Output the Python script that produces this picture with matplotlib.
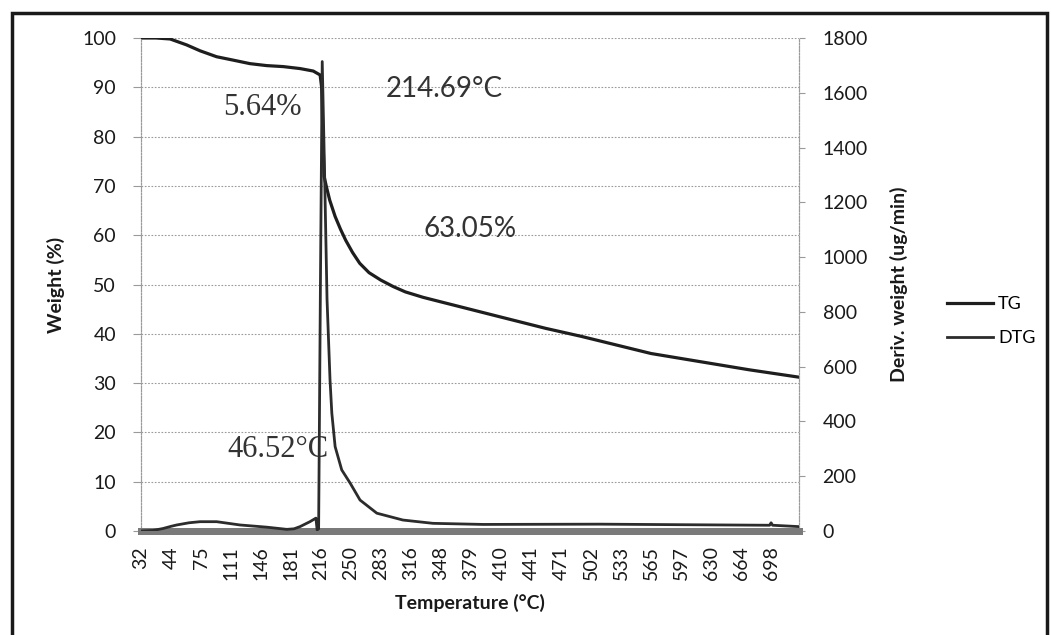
import numpy as np
import matplotlib.pyplot as plt
from matplotlib.patches import Rectangle

# category labels of the x axis (Excel-style category axis, one label per step)
temp_labels = [32, 44, 75, 111, 146, 181, 216, 250, 283, 316, 348, 379,
               410, 441, 471, 502, 533, 565, 597, 630, 664, 698]

# TG curve: position along the category axis (label steps) and weight (%)
tg_pos = [0, 0.5, 0.97, 1.52, 1.97, 2.52, 3.08, 3.63, 4.19, 4.74, 5.3, 5.74,
          5.97, 6.02, 6.1, 6.18, 6.29, 6.47, 6.65, 6.82, 7.05, 7.29, 7.6,
          7.99, 8.4, 8.81, 9.4, 9.98, 11.73, 13.49, 14.66, 17.0, 20.27, 21.93]
tg_val = [100, 100, 99.8, 98.6, 97.4, 96.2, 95.5, 94.8, 94.4, 94.2, 93.8, 93.3,
          92.5, 90, 72, 69.8, 67.1, 63.8, 61.2, 59.0, 56.5, 54.3, 52.4,
          50.9, 49.6, 48.5, 47.4, 46.5, 43.8, 41.1, 39.5, 36.0, 32.7, 31.2]

# DTG curve: position along the category axis and deriv. weight (ug/min)
dtg_pos = [0, 0.4, 0.73, 1.0, 1.19, 1.6, 1.97, 2.52, 3.3, 4.19, 4.86, 5.1,
           5.3, 5.63, 5.83, 5.87, 5.92, 5.98, 6.04, 6.12, 6.2, 6.3, 6.36,
           6.47, 6.69, 6.97, 7.3, 7.86, 8.73, 9.73, 11.4, 15.3, 18.0, 20.95,
           21.0, 21.05, 21.93]
dtg_val = [0, 2, 9, 17, 22, 30, 34, 34, 22, 14, 6, 8,
           16, 34, 47, 4, 8, 900, 1714, 1300, 846, 551, 430,
           308, 223, 175, 113, 65, 40, 28, 24, 25, 23, 21,
           30, 21, 16]

ann_text = ['5.64%', '214.69°C', '63.05%', '46.52°C']
ann_x = [2.73, 8.17, 9.4, 2.87]
ann_y = [86.0, 89.7, 61.3, 16.6]
ann_serif = [True, False, False, True]

sans = ['Lato', 'DejaVu Sans']
serif = ['Liberation Serif', 'DejaVu Serif']
plt.rcParams['font.family'] = sans

W, H = 1051, 635
fig = plt.figure(figsize=(W / 100, H / 100), dpi=100)
ax = fig.add_axes([141 / W, 1 - 531 / H, (799 - 141) / W, (531 - 38) / H])
ax2 = ax.twinx()

line_tg, = ax.plot(tg_pos, tg_val, color='#1e1e1e', lw=2.3, label='TG', zorder=4)
line_dtg, = ax2.plot(dtg_pos, dtg_val, color='#2c2c2c', lw=2.0, label='DTG', zorder=3)

ax.set_xlim(0, 21.93)
ax.set_ylim(0, 100)
ax2.set_ylim(0, 1800)
ax.set_yticks(np.arange(0, 101, 10))
ax2.set_yticks(np.arange(0, 1801, 200))
ax.set_xticks(range(len(temp_labels)))
ax.set_xticklabels([str(t) for t in temp_labels], rotation=90)

ax.grid(axis='y', color='#9a9a9a', ls=(0, (1.5, 1.5)), lw=0.8)
ax.set_axisbelow(True)

for a in (ax, ax2):
    a.spines['top'].set_visible(False)
    a.spines['left'].set_color('#9a9a9a')
    a.spines['left'].set_linestyle((0, (1.5, 1.5)))
    a.spines['right'].set_color('#9a9a9a')
    a.spines['right'].set_linestyle((0, (1.5, 1.5)))
    a.spines['bottom'].set_color('#7a7a7a')
    a.spines['bottom'].set_linewidth(5)

ax.tick_params(axis='y', length=6, width=0.8, color='#9a9a9a', pad=12,
               labelsize=14, labelcolor='#1a1a1a')
ax2.tick_params(axis='y', length=4, width=0.8, color='#9a9a9a', pad=13,
                labelsize=14, labelcolor='#1a1a1a')
ax.tick_params(axis='x', length=0, pad=11, labelsize=14, labelcolor='#1a1a1a')

ax.set_ylabel('Weight (%)', fontsize=14, fontweight='bold', color='#1a1a1a', labelpad=12)
ax2.set_ylabel('Deriv. weight (ug/min)', fontsize=14, fontweight='bold',
               color='#1a1a1a', labelpad=16)
ax.set_xlabel('Temperature (°C)', fontsize=14, fontweight='bold', color='#1a1a1a',
              labelpad=10)

for t, x, y, s in zip(ann_text, ann_x, ann_y, ann_serif):
    ax.text(x, y, t, family=serif if s else sans, fontsize=22 if s else 20,
            color='#333333', ha='left', va='center', zorder=5)

fig.legend(handles=[line_tg, line_dtg], loc='upper left',
           bbox_to_anchor=(947 / W, 1 - 296 / H), frameon=False, fontsize=13,
           borderpad=0, borderaxespad=0, handlelength=2.55, handletextpad=0.28,
           labelspacing=1.0)

fig.patches.append(Rectangle((12 / W, -0.05), (1047 - 12) / W, 1.05 - 13 / H,
                             transform=fig.transFigure, fill=False,
                             edgecolor='#1a1a1a', lw=2.5))

fig.savefig('out.png', dpi=100, facecolor='white')
